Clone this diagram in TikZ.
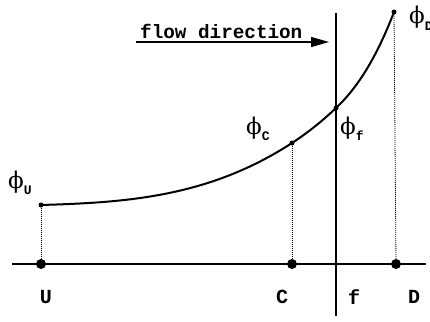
\documentclass[tikz,border=0pt]{standalone}
\usepackage{fontspec}
\setmonofont{Liberation Mono}
\newfontfamily\phifont{DejaVu Serif}
\usetikzlibrary{arrows.meta}
\tikzset{
  axisdot/.style={circle,fill=black,inner sep=0pt,minimum size=10pt},
  curvedot/.style={circle,fill=black,inner sep=0pt,minimum size=5pt},
  lbl/.style={font=\fontsize{20}{20}\selectfont\ttfamily\bfseries,inner sep=0pt},
  philbl/.style={inner sep=0pt,anchor=base west,font=\fontsize{23}{23}\selectfont\phifont},
  guide/.style={line width=0.8pt,dash pattern=on 1pt off 1pt},
  thick line/.style={line width=2pt}
}
\newcommand{\phisub}[1]{\raisebox{-6pt}{\fontsize{13}{13}\selectfont\ttfamily\bfseries #1}}
\begin{document}
\begin{tikzpicture}[x=1pt,y=-1pt]
\useasboundingbox (0,0) rectangle (430,321);
% axis
\coordinate (axL) at (12,264);
\coordinate (axR) at (426,264);
\draw[thick line] (axL) -- (axR);
% face line
\coordinate (fT) at (336,13);
\coordinate (fB) at (336,316);
\draw[thick line] (fT) -- (fB);
% points on curve
\node[curvedot] (pU) at (41,205) {};
\node[curvedot] (pC) at (292,143) {};
\node[curvedot] (pf) at (336,108) {};
\node[curvedot] (pD) at (394,12) {};
% curve
\draw[thick line] (pU.center) .. controls (125,202.5) and (208,197.6) .. (pC.center)
  .. controls (306.7,133.4) and (321.3,122) .. (pf.center)
  .. controls (355.3,89.7) and (374.7,62.2) .. (pD.center);
% axis dots
\node[axisdot] (U) at (41,264) {};
\node[axisdot] (C) at (292,264) {};
\node[axisdot] (D) at (396,264) {};
% dotted guides
\draw[guide] (pU) -- (U);
\draw[guide] (pC) -- (C);
\draw[guide] (pD.center) -- (D);
% axis labels
\node[lbl] (lU) at (46,297) {U};
\node[lbl] (lC) at (282,297) {C};
\node[lbl] (lf) at (354,297) {f};
\node[lbl] (lD) at (414,297) {D};
% phi labels
\node[philbl] (phU) at (8,188) {ϕ\phisub{U}};
\node[philbl] (phC) at (246,134) {ϕ\phisub{C}};
\node[philbl] (phf) at (340,134) {ϕ\phisub{f}};
\node[philbl] (phD) at (409,24) {ϕ\phisub{D}};
% flow direction
\node[lbl,anchor=west,font=\fontsize{19.3}{19.3}\selectfont\ttfamily\bfseries] (flow) at (140,31) {flow direction};
\coordinate (aS) at (136,42);
\coordinate (aE) at (329,42);
\draw[line width=1.3pt,-{Triangle[length=18pt,width=10pt]}] (aS) -- (aE);
\end{tikzpicture}
\end{document}
